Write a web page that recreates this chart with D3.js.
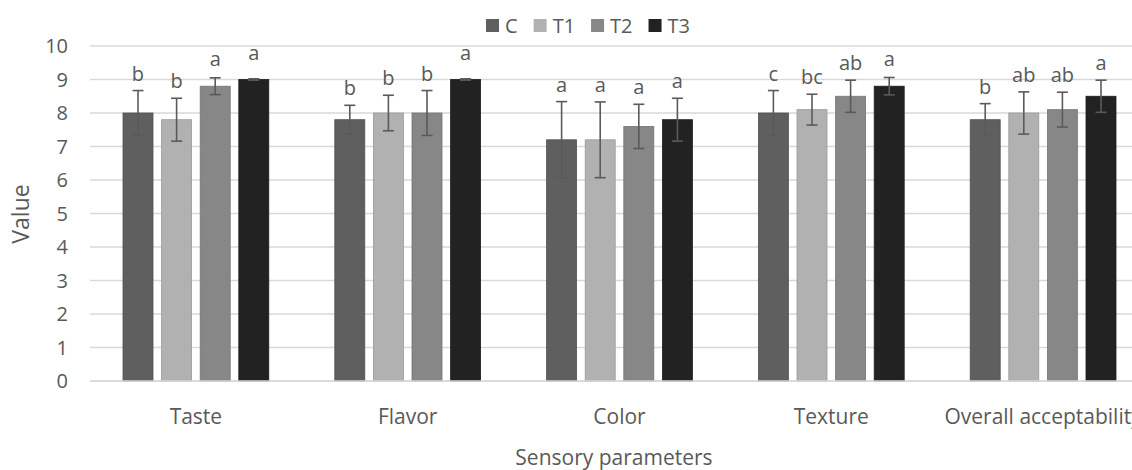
<!DOCTYPE html>
<html><head><meta charset="utf-8">
<script src="https://cdn.jsdelivr.net/npm/d3@7"></script>
<style>
html,body{margin:0;padding:0;background:#fff;}
svg{display:block;font-family:"Open Sans",sans-serif;}
</style></head>
<body>
<svg id="chart" width="1132" height="470"></svg>
<script>
const categories = ["Taste","Flavor","Color","Texture","Overall acceptability"];
const seriesNames = ["C","T1","T2","T3"];
const valC  = [8.0, 7.8, 7.2, 8.0, 7.8];
const valT1 = [7.8, 8.0, 7.2, 8.1, 8.0];
const valT2 = [8.8, 8.0, 7.6, 8.5, 8.1];
const valT3 = [9.0, 9.0, 7.8, 8.8, 8.5];
const errC  = [0.67, 0.43, 1.14, 0.67, 0.48];
const errT1 = [0.64, 0.53, 1.13, 0.46, 0.63];
const errT2 = [0.25, 0.67, 0.66, 0.48, 0.52];
const errT3 = [0.02, 0.02, 0.64, 0.26, 0.48];
const sigC  = ["b","b","a","c","b"];
const sigT1 = ["b","b","a","bc","ab"];
const sigT2 = ["a","b","a","ab","ab"];
const sigT3 = ["a","a","a","a","a"];
const yTicks = [0,1,2,3,4,5,6,7,8,9,10];
const colors = ["#5f5f5f","#b1b1b1","#878787","#222222"];

const vals = [valC,valT1,valT2,valT3];
const errs = [errC,errT1,errT2,errT3];
const sigs = [sigC,sigT1,sigT2,sigT3];
const data = [];
categories.forEach((c,i)=>seriesNames.forEach((s,j)=>data.push({cat:c,ser:s,v:vals[j][i],e:errs[j][i],sig:sigs[j][i],col:colors[j]})));

const svg = d3.select("#chart");
const txt = "#595959";
const x0 = d3.scaleBand().domain(categories).range([90,1149]).padding(0);
const x1 = d3.scaleBand().domain(seriesNames).range([0,x0.bandwidth()]).paddingInner(0.223).paddingOuter(0.855);
const y = d3.scaleLinear().domain([0,10]).range([381,46]);

// gridlines
svg.append("g").selectAll("line").data(yTicks).join("line")
  .attr("x1",90).attr("x2",1149).attr("y1",d=>y(d)).attr("y2",d=>y(d))
  .attr("stroke","#d9d9d9").attr("stroke-width",1.3);

// y tick labels
svg.append("g").selectAll("text").data(yTicks).join("text")
  .attr("x",68).attr("y",d=>y(d)).attr("dy","0.36em").attr("text-anchor","end")
  .attr("fill",txt).attr("font-size",20).text(d=>d);

// bars
const g = svg.append("g");
g.selectAll("rect").data(data).join("rect")
  .attr("x",d=>x0(d.cat)+x1(d.ser)).attr("width",x1.bandwidth())
  .attr("y",d=>y(d.v)).attr("height",d=>y(0)-y(d.v))
  .attr("fill",d=>d.col).attr("stroke",d=>d3.color(d.col).darker(0.4)).attr("stroke-width",0.8);

// axis line
svg.append("line").attr("x1",90).attr("x2",1149).attr("y1",y(0)).attr("y2",y(0))
  .attr("stroke","#d9d9d9").attr("stroke-width",1.3);

// error bars
const eb = svg.append("g").attr("stroke","#5a5a5a").attr("stroke-width",1.6);
data.forEach(d=>{
  const cx = x0(d.cat)+x1(d.ser)+x1.bandwidth()/2;
  eb.append("line").attr("x1",cx).attr("x2",cx).attr("y1",y(d.v+d.e)).attr("y2",y(d.v-d.e));
  eb.append("line").attr("x1",cx-5.5).attr("x2",cx+5.5).attr("y1",y(d.v+d.e)).attr("y2",y(d.v+d.e));
  eb.append("line").attr("x1",cx-5.5).attr("x2",cx+5.5).attr("y1",y(d.v-d.e)).attr("y2",y(d.v-d.e));
});

// significance letters
svg.append("g").selectAll("text").data(data).join("text")
  .attr("x",d=>x0(d.cat)+x1(d.ser)+x1.bandwidth()/2)
  .attr("y",d=>Math.min(y(d.v+d.e)-10, y(d.v)-20))
  .attr("text-anchor","middle").attr("fill",txt).attr("font-size",20).text(d=>d.sig);

// category labels
svg.append("g").selectAll("text").data(categories).join("text")
  .attr("x",d=>x0(d)+x0.bandwidth()/2).attr("y",424).attr("text-anchor","middle")
  .attr("fill",txt).attr("font-size",21).text(d=>d);

// axis titles
svg.append("text").attr("x",614).attr("y",465).attr("text-anchor","middle")
  .attr("fill",txt).attr("font-size",21).text("Sensory parameters");
svg.append("text").attr("transform","translate(29,214) rotate(-90)").attr("text-anchor","middle")
  .attr("fill",txt).attr("font-size",23).text("Value");

// legend
const leg = svg.append("g");
let lx = 0;
seriesNames.forEach((s,j)=>{
  const it = leg.append("g").attr("transform",`translate(${lx},0)`);
  it.append("rect").attr("x",0).attr("y",-7).attr("width",13).attr("height",13).attr("fill",colors[j]);
  const t = it.append("text").attr("x",19).attr("y",0).attr("dy","0.36em").attr("fill",txt).attr("font-size",20).text(s);
  lx += 19 + t.node().getComputedTextLength() + 16;
});
const lw = lx - 16;
leg.attr("transform",`translate(${588-lw/2},26)`);
</script>
</body></html>
